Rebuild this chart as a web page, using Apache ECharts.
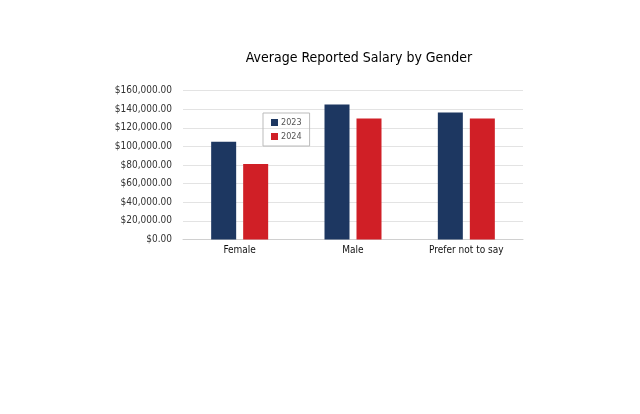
<!DOCTYPE html>
<html>
<head>
<meta charset="utf-8">
<script src="https://cdn.jsdelivr.net/npm/echarts@6/dist/echarts.min.js"></script>
<style>
  html, body { margin: 0; padding: 0; background: #fff; }
  #chart { width: 640px; height: 414px; }
</style>
</head>
<body>
<div id="chart"></div>
<script>
// data
var categories = ["Female", "Male", "Prefer not to say"];
var seriesNames = ["2023", "2024"];
var values2023 = [105000, 145000, 136500];
var values2024 = [81000, 130000, 130000];
var colors = ["#1d3761", "#d01f26"];

var font = "'DejaVu Sans Condensed', sans-serif";
var chart = echarts.init(document.getElementById("chart"));

var fmt = function (v) {
  return "$" + v.toLocaleString("en-US", { minimumFractionDigits: 2, maximumFractionDigits: 2 });
};

var option = {
  animation: false,
  color: colors,
  title: {
    text: "Average Reported Salary by Gender",
    left: 354,
    textAlign: "center",
    top: 46,
    textStyle: { fontFamily: font, fontSize: 14, fontWeight: "normal", color: "#000" }
  },
  legend: {
    data: seriesNames,
    orient: "vertical",
    left: 263,
    top: 113,
    itemWidth: 7,
    itemHeight: 7,
    itemGap: 5,
    padding: [5, 8, 5, 8],
    borderColor: "#bbb",
    borderWidth: 1,
    icon: "rect",
    textStyle: { fontFamily: font, fontSize: 9, color: "#555", padding: [0, 0, 0, -2] }
  },
  grid: { left: 183, right: 117, top: 90.5, bottom: 174.5 },
  xAxis: {
    type: "category",
    data: categories,
    axisTick: { show: false },
    axisLine: { lineStyle: { color: "#d0d0d0" } },
    axisLabel: { fontFamily: font, fontSize: 10, color: "#111", margin: 6 }
  },
  yAxis: {
    type: "value",
    min: 0,
    max: 160000,
    interval: 20000,
    axisLabel: { formatter: fmt, fontFamily: font, fontSize: 10, color: "#333", margin: 11 },
    splitLine: { lineStyle: { color: "#e3e3e3" } }
  },
  series: [
    { name: seriesNames[0], type: "bar", data: values2023, barWidth: 25, barGap: "28%" },
    { name: seriesNames[1], type: "bar", data: values2024, barWidth: 25 }
  ]
};
chart.setOption(option);
</script>
</body>
</html>
